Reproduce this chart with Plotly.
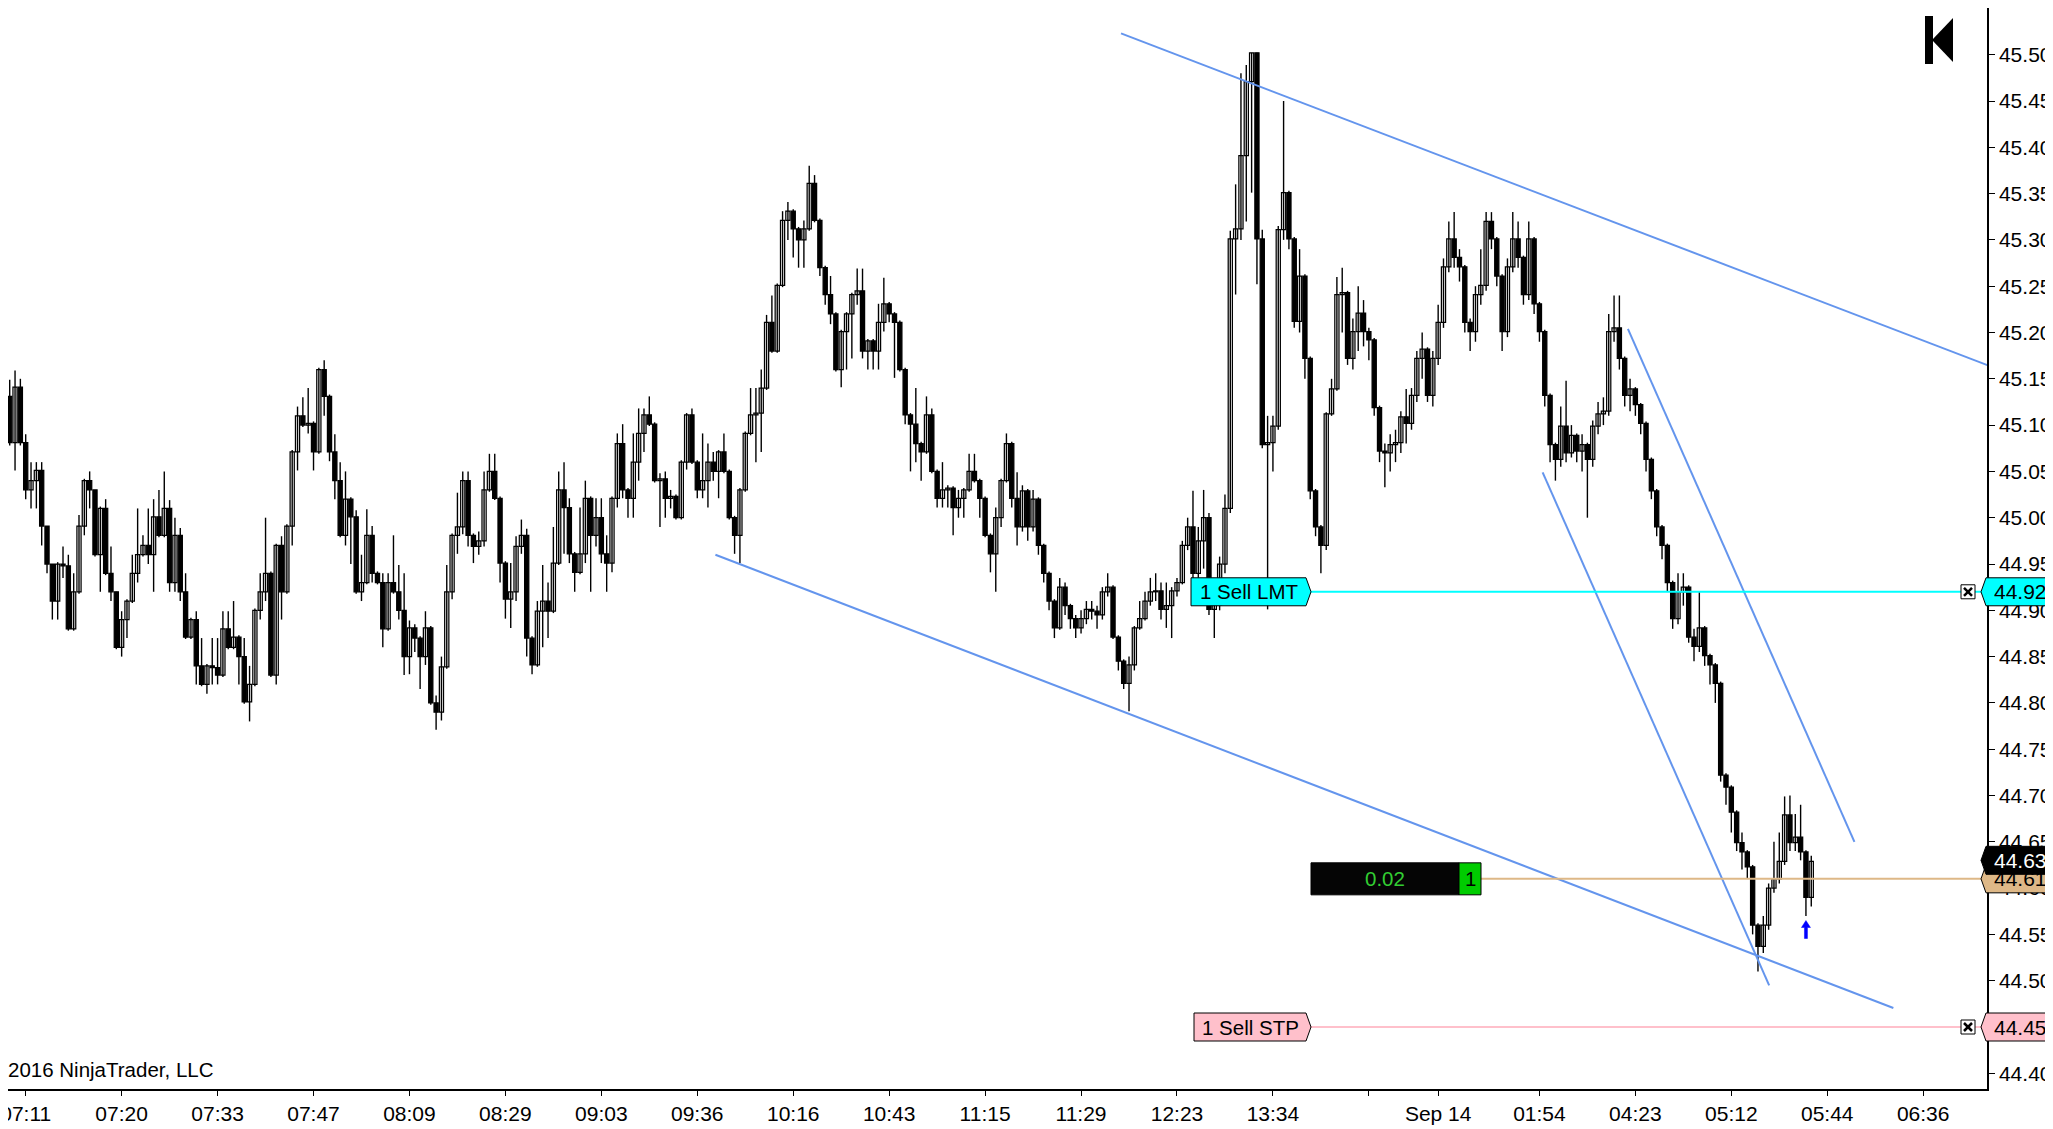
import plotly.graph_objects as go

# ---------------- data ----------------
FIRST_OPEN = 45.131
CLOSE = [
 45.081,45.141,45.081,45.030,45.040,45.051,44.991,44.950,44.910,44.950,
 44.948,44.880,44.920,44.991,45.040,45.030,44.960,45.010,44.940,44.920,
 44.860,44.890,44.910,44.940,44.960,44.970,44.960,45.001,44.981,45.010,
 44.930,44.981,44.920,44.871,44.890,44.840,44.820,44.840,44.838,44.830,
 44.880,44.860,44.871,44.850,44.801,44.820,44.900,44.920,44.940,44.830,
 44.970,44.920,44.991,45.071,45.110,45.100,45.102,45.071,45.160,45.131,
 45.071,45.040,44.981,45.020,45.001,44.920,44.930,44.981,44.940,44.930,
 44.880,44.930,44.920,44.900,44.850,44.881,44.870,44.850,44.881,44.800,
 44.790,44.839,44.920,44.981,44.990,45.040,44.981,44.969,44.975,45.030,
 45.050,45.021,44.951,44.912,44.920,44.969,44.981,44.870,44.841,44.899,
 44.910,44.899,44.951,45.030,45.011,44.961,44.941,44.961,45.021,44.981,
 45.000,44.961,44.951,45.021,45.080,45.030,45.021,45.060,45.091,45.111,
 45.101,45.040,45.042,45.021,45.023,45.000,45.060,45.111,45.060,45.030,
 45.040,45.060,45.050,45.071,45.050,45.000,44.981,45.030,45.091,45.111,
 45.113,45.140,45.211,45.180,45.251,45.321,45.331,45.312,45.300,45.312,
 45.361,45.321,45.270,45.241,45.220,45.160,45.201,45.220,45.241,45.245,
 45.180,45.191,45.180,45.211,45.231,45.220,45.211,45.160,45.111,45.101,
 45.080,45.071,45.111,45.050,45.021,45.030,45.032,45.011,45.021,45.030,
 45.050,45.040,45.021,44.981,44.961,45.000,45.040,45.080,45.021,44.990,
 45.029,44.990,45.020,44.970,44.940,44.910,44.881,44.925,44.905,44.891,
 44.881,44.891,44.901,44.899,44.895,44.920,44.925,44.871,44.845,44.821,
 44.841,44.881,44.891,44.910,44.920,44.921,44.901,44.905,44.921,44.930,
 44.970,44.990,44.940,44.975,45.000,44.901,44.906,44.950,45.010,45.301,
 45.312,45.391,45.471,45.502,45.301,45.079,45.081,45.099,45.311,45.351,
 45.301,45.212,45.261,45.172,45.029,44.990,44.970,45.112,45.139,45.241,
 45.243,45.172,45.201,45.221,45.201,45.192,45.119,45.072,45.070,45.079,
 45.081,45.109,45.102,45.132,45.172,45.182,45.132,45.172,45.211,45.271,
 45.301,45.281,45.271,45.211,45.201,45.241,45.251,45.320,45.301,45.261,
 45.201,45.271,45.301,45.281,45.241,45.301,45.231,45.201,45.132,45.079,
 45.063,45.099,45.070,45.089,45.072,45.079,45.063,45.099,45.112,45.115,
 45.201,45.205,45.172,45.132,45.139,45.122,45.102,45.063,45.029,44.990,
 44.970,44.930,44.891,44.920,44.925,44.871,44.861,44.881,44.851,44.841,
 44.821,44.722,44.709,44.682,44.649,44.639,44.623,44.560,44.537,44.560,
 44.600,44.610,44.629,44.679,44.649,44.655,44.639,44.590,44.629,
]
HIGH = [
 45.149,45.159,45.150,45.090,45.060,45.060,45.060,44.991,44.950,44.952,
 44.969,44.960,44.940,45.003,45.042,45.050,45.030,45.012,45.020,44.969,
 44.920,44.899,44.912,44.960,45.010,44.981,45.010,45.020,45.030,45.050,
 45.019,45.000,44.989,44.940,44.892,44.899,44.870,44.842,44.870,44.870,
 44.899,44.899,44.910,44.873,44.870,44.840,44.902,44.940,45.000,44.942,
 44.972,44.980,44.993,45.073,45.120,45.130,45.140,45.104,45.162,45.170,
 45.133,45.090,45.060,45.050,45.022,45.008,44.960,45.009,44.991,44.942,
 44.940,44.940,44.981,44.949,44.940,44.889,44.885,44.872,44.899,44.883,
 44.808,44.850,44.949,44.983,45.027,45.050,45.050,44.983,44.985,45.050,
 45.069,45.069,45.023,44.953,44.951,44.980,44.998,44.988,44.872,44.910,
 44.949,44.930,44.990,45.050,45.060,45.021,44.963,45.011,45.040,45.023,
 45.021,45.021,44.981,45.023,45.091,45.101,45.032,45.091,45.118,45.118,
 45.131,45.103,45.048,45.050,45.030,45.025,45.062,45.113,45.118,45.062,
 45.091,45.080,45.071,45.073,45.091,45.052,45.002,45.032,45.093,45.140,
 45.140,45.160,45.219,45.240,45.253,45.331,45.341,45.333,45.314,45.321,
 45.380,45.370,45.323,45.272,45.261,45.222,45.203,45.222,45.243,45.269,
 45.269,45.193,45.193,45.231,45.259,45.233,45.222,45.213,45.162,45.113,
 45.140,45.082,45.131,45.118,45.052,45.060,45.035,45.034,45.030,45.032,
 45.069,45.069,45.042,45.023,44.983,45.011,45.042,45.091,45.082,45.049,
 45.035,45.031,45.030,45.022,44.972,44.942,44.912,44.935,44.930,44.907,
 44.895,44.900,44.910,44.910,44.905,44.925,44.940,44.927,44.873,44.847,
 44.850,44.883,44.910,44.920,44.935,44.940,44.930,44.930,44.925,44.935,
 44.975,45.000,45.029,44.990,45.030,45.005,44.912,44.958,45.025,45.310,
 45.360,45.480,45.489,45.502,45.502,45.311,45.110,45.110,45.315,45.450,
 45.353,45.303,45.290,45.263,45.174,45.031,44.992,45.114,45.150,45.260,
 45.270,45.245,45.215,45.250,45.235,45.205,45.194,45.121,45.080,45.090,
 45.095,45.115,45.139,45.140,45.180,45.200,45.184,45.180,45.230,45.280,
 45.320,45.330,45.290,45.273,45.215,45.250,45.290,45.330,45.330,45.303,
 45.263,45.280,45.330,45.320,45.283,45.320,45.303,45.233,45.203,45.134,
 45.081,45.120,45.148,45.100,45.091,45.090,45.081,45.105,45.125,45.130,
 45.220,45.240,45.240,45.174,45.150,45.141,45.124,45.104,45.065,45.031,
 44.992,44.972,44.932,44.940,44.940,44.927,44.880,44.920,44.883,44.853,
 44.843,44.823,44.724,44.711,44.684,44.660,44.641,44.625,44.562,44.570,
 44.605,44.650,44.660,44.699,44.700,44.680,44.690,44.641,44.635,
]
LOW = [
 45.078,45.051,45.078,45.020,45.010,45.010,44.970,44.940,44.890,44.890,
 44.935,44.878,44.878,44.918,44.981,45.010,44.958,44.920,44.938,44.910,
 44.858,44.850,44.870,44.908,44.930,44.958,44.950,44.920,44.979,44.979,
 44.920,44.920,44.910,44.869,44.869,44.820,44.818,44.810,44.820,44.820,
 44.828,44.858,44.858,44.820,44.799,44.780,44.818,44.890,44.910,44.828,
 44.820,44.890,44.918,44.970,45.051,45.098,45.091,45.051,45.069,45.110,
 45.061,45.020,44.979,44.970,44.950,44.918,44.910,44.928,44.930,44.928,
 44.860,44.878,44.918,44.890,44.830,44.831,44.855,44.815,44.841,44.798,
 44.771,44.781,44.837,44.912,44.961,44.982,44.969,44.951,44.960,44.969,
 45.028,45.019,44.930,44.891,44.881,44.910,44.961,44.850,44.831,44.839,
 44.860,44.870,44.897,44.949,44.961,44.951,44.920,44.939,44.951,44.920,
 44.969,44.951,44.920,44.941,45.011,45.021,45.000,45.000,45.040,45.071,
 45.099,45.038,44.990,45.000,45.010,44.998,44.998,45.052,45.058,45.021,
 45.021,45.011,45.040,45.021,45.048,44.998,44.961,44.951,45.028,45.089,
 45.060,45.071,45.138,45.178,45.178,45.249,45.300,45.281,45.270,45.270,
 45.310,45.319,45.261,45.230,45.209,45.158,45.141,45.160,45.172,45.230,
 45.172,45.160,45.160,45.160,45.201,45.211,45.151,45.158,45.101,45.050,
 45.060,45.040,45.069,45.048,45.011,45.011,45.011,44.981,45.000,45.000,
 45.028,45.038,45.000,44.979,44.941,44.920,44.990,45.038,45.011,44.970,
 44.985,44.975,44.985,44.960,44.930,44.900,44.870,44.879,44.895,44.880,
 44.870,44.875,44.885,44.890,44.880,44.890,44.915,44.869,44.835,44.815,
 44.791,44.835,44.879,44.889,44.905,44.910,44.890,44.881,44.870,44.915,
 44.928,44.965,44.935,44.935,44.945,44.895,44.870,44.900,44.940,45.005,
 45.241,45.300,45.320,45.351,45.252,45.075,44.901,45.050,45.095,45.300,
 45.290,45.205,45.200,45.150,45.020,44.980,44.940,44.965,45.110,45.137,
 45.200,45.165,45.160,45.180,45.185,45.170,45.110,45.060,45.033,45.050,
 45.060,45.070,45.080,45.095,45.125,45.150,45.125,45.120,45.165,45.205,
 45.265,45.270,45.255,45.200,45.180,45.190,45.230,45.245,45.290,45.250,
 45.180,45.195,45.265,45.270,45.230,45.235,45.220,45.190,45.120,45.060,
 45.040,45.055,45.060,45.065,45.060,45.050,45.000,45.055,45.090,45.100,
 45.110,45.190,45.160,45.120,45.115,45.110,45.090,45.050,45.020,44.980,
 44.955,44.920,44.880,44.885,44.905,44.865,44.845,44.855,44.840,44.820,
 44.800,44.715,44.690,44.660,44.640,44.620,44.610,44.550,44.510,44.530,
 44.555,44.595,44.605,44.625,44.640,44.640,44.630,44.570,44.580,
]

X_TICK_BARS = [3, 21, 39, 57, 75, 93, 111, 129, 147, 165, 183, 201, 219, 237, 255,
               268, 287, 305, 323, 341, 359]
X_TICK_LABELS = ["07:11", "07:20", "07:33", "07:47", "08:09", "08:29", "09:03", "09:36",
                 "10:16", "10:43", "11:15", "11:29", "12:23", "13:34", "",
                 "Sep 14", "01:54", "04:23", "05:12", "05:44", "06:36"]
Y_TICKS = [44.40, 44.45, 44.50, 44.55, 44.60, 44.65, 44.70, 44.75, 44.80, 44.85,
           44.90, 44.95, 45.00, 45.05, 45.10, 45.15, 45.20, 45.25, 45.30, 45.35,
           45.40, 45.45, 45.50]

# drawn trend lines: (bar0, price0, bar1, price1)
TREND_LINES = [
    (208.5, 45.523, 380.0, 45.145),
    (132.4, 44.960, 353.4, 44.4705),
    (287.6, 45.049, 330.1, 44.495),
    (303.6, 45.204, 346.1, 44.650),
]

LMT_PRICE = 44.92
STP_PRICE = 44.45
POS_PRICE = 44.61
LAST_PRICE = 44.63
PNL_TEXT = "0.02"
QTY_TEXT = "1"
ARROW_BAR = 337
ARROW_TIP = 44.565

# ---------------- geometry ----------------
W, H = 2053, 1129
PL, PR, PT, PB = 0, 1979, 0, 1081          # plot area in pixels
X0, X1 = -0.32, 370.97
Y0, Y1 = 44.38305, 45.55043
FONT = "Liberation Sans, Arial, sans-serif"

n = len(CLOSE)
OPEN = [FIRST_OPEN] + CLOSE[:-1]
idx = list(range(n))


def xp(px):      # pixel -> paper x
    return (px - PL) / (PR - PL)


def yp_pix(py):  # pixel -> paper y
    return 1 - (py - PT) / (PB - PT)


def yp(price):   # price -> paper y
    return (price - Y0) / (Y1 - Y0)


DYP = 1.0 / (PB - PT)          # one pixel in paper-y units
PPX = (PB - PT) / (Y1 - Y0)    # pixels per price unit
BPX = (PR - PL) / (X1 - X0)    # pixels per bar

fig = go.Figure()

# wicks
wx, wy = [], []
for i in idx:
    wx += [i, i, None]
    wy += [LOW[i], HIGH[i], None]
fig.add_trace(go.Scatter(x=wx, y=wy, mode="lines",
                         line=dict(color="black", width=1.4),
                         hoverinfo="skip"))

# bodies
base, hgt, col = [], [], []
for i in idx:
    lo = min(OPEN[i], CLOSE[i])
    hi = max(OPEN[i], CLOSE[i])
    base.append(lo)
    hgt.append(max(hi - lo, 0.0006))
    col.append("white" if CLOSE[i] >= OPEN[i] else "black")
fig.add_trace(go.Bar(x=idx, y=hgt, base=base, width=0.78,
                     marker=dict(color=col, line=dict(color="black", width=1.25)),
                     hoverinfo="skip"))

shapes = []
annos = []

# trend lines
for (b0, p0, b1, p1) in TREND_LINES:
    shapes.append(dict(type="line", xref="x", yref="y", x0=b0, y0=p0, x1=b1, y1=p1,
                       line=dict(color="#6495ED", width=2)))

# order / position lines
shapes.append(dict(type="line", xref="paper", yref="paper", x0=xp(1303), x1=xp(1979),
                   y0=yp(LMT_PRICE), y1=yp(LMT_PRICE), line=dict(color="#00FFFF", width=2)))
shapes.append(dict(type="line", xref="paper", yref="paper", x0=xp(1302), x1=xp(1979),
                   y0=yp(STP_PRICE), y1=yp(STP_PRICE), line=dict(color="#FFC0CB", width=2)))
shapes.append(dict(type="line", xref="paper", yref="paper", x0=xp(1473), x1=xp(1979),
                   y0=yp(POS_PRICE), y1=yp(POS_PRICE), line=dict(color="#DEB887", width=2)))


def tag_left(x_left, x_right, price, fill, text):
    yc = yp(price)
    h = 14 * DYP
    path = (f"M {xp(x_left)},{yc + h} L {xp(x_right)},{yc + h} L {xp(x_right + 5)},{yc} "
            f"L {xp(x_right)},{yc - h} L {xp(x_left)},{yc - h} Z")
    shapes.append(dict(type="path", xref="paper", yref="paper", path=path,
                       fillcolor=fill, line=dict(color="black", width=1)))
    annos.append(dict(x=xp((x_left + x_right) / 2), y=yc, xref="paper", yref="paper",
                      text=text, showarrow=False, xanchor="center", yanchor="middle",
                      font=dict(family=FONT, size=20.5, color="black")))


tag_left(1183, 1298, LMT_PRICE, "#00FFFF", "1 Sell LMT")
tag_left(1186, 1298, STP_PRICE, "#FFC0CB", "1 Sell STP")

# position box
yc = yp(POS_PRICE)
shapes.append(dict(type="rect", xref="paper", yref="paper", x0=xp(1303), x1=xp(1451),
                   y0=yc - 16 * DYP, y1=yc + 16 * DYP, fillcolor="#050505",
                   line=dict(color="black", width=1)))
shapes.append(dict(type="rect", xref="paper", yref="paper", x0=xp(1451), x1=xp(1473),
                   y0=yc - 16 * DYP, y1=yc + 16 * DYP, fillcolor="#00CC00",
                   line=dict(color="black", width=1)))
annos.append(dict(x=xp(1377), y=yc, xref="paper", yref="paper", text=PNL_TEXT,
                  showarrow=False, xanchor="center", yanchor="middle",
                  font=dict(family=FONT, size=20.5, color="#32CD32")))
annos.append(dict(x=xp(1462), y=yc, xref="paper", yref="paper", text=QTY_TEXT,
                  showarrow=False, xanchor="center", yanchor="middle",
                  font=dict(family=FONT, size=20.5, color="black")))

# close boxes
for price in (LMT_PRICE, STP_PRICE):
    yc = yp(price)
    shapes.append(dict(type="rect", xref="paper", yref="paper", x0=xp(1953), x1=xp(1967),
                       y0=yc - 7 * DYP, y1=yc + 7 * DYP, fillcolor="white",
                       line=dict(color="black", width=1)))
    shapes.append(dict(type="line", xref="paper", yref="paper", x0=xp(1956), x1=xp(1964),
                       y0=yc - 4 * DYP, y1=yc + 4 * DYP, line=dict(color="black", width=2.5)))
    shapes.append(dict(type="line", xref="paper", yref="paper", x0=xp(1956), x1=xp(1964),
                       y0=yc + 4 * DYP, y1=yc - 4 * DYP, line=dict(color="black", width=2.5)))


def tag_right(price, fill, txtcol, text):
    yc = yp(price)
    h = 14 * DYP
    path = (f"M {xp(1973)},{yc} L {xp(1978)},{yc + h} L {xp(2050)},{yc + h} "
            f"L {xp(2050)},{yc - h} L {xp(1978)},{yc - h} Z")
    shapes.append(dict(type="path", xref="paper", yref="paper", path=path,
                       fillcolor=fill, line=dict(color="black", width=1)))
    annos.append(dict(x=xp(1984), y=yc, xref="paper", yref="paper", text=text,
                      showarrow=False, xanchor="left", yanchor="middle",
                      font=dict(family=FONT, size=21, color=txtcol)))


tag_right(LMT_PRICE, "#00FFFF", "black", f"{LMT_PRICE:.2f}")
tag_right(POS_PRICE, "#DEB887", "black", f"{POS_PRICE:.2f}")
tag_right(LAST_PRICE, "black", "white", f"{LAST_PRICE:.2f}")
tag_right(STP_PRICE, "#FFC0CB", "black", f"{STP_PRICE:.2f}")

# blue entry arrow under the bar
hw = 4.5 / BPX
sw = 1.5 / BPX
hh = 7 / PPX
tl = 18 / PPX
ax_ = ARROW_BAR
apath = (f"M {ax_},{ARROW_TIP} L {ax_ + hw},{ARROW_TIP - hh} L {ax_ + sw},{ARROW_TIP - hh} "
         f"L {ax_ + sw},{ARROW_TIP - tl} L {ax_ - sw},{ARROW_TIP - tl} L {ax_ - sw},{ARROW_TIP - hh} "
         f"L {ax_ - hw},{ARROW_TIP - hh} Z")
shapes.append(dict(type="path", xref="x", yref="y", path=apath, fillcolor="#0000FF",
                   line=dict(color="#0000FF", width=0.5)))

# logo
shapes.append(dict(type="rect", xref="paper", yref="paper", x0=xp(1917), x1=xp(1925),
                   y0=yp_pix(56), y1=yp_pix(8), fillcolor="black", line=dict(width=0)))
shapes.append(dict(type="path", xref="paper", yref="paper",
                   path=f"M {xp(1924)},{yp_pix(32)} L {xp(1945)},{yp_pix(10)} L {xp(1945)},{yp_pix(54)} Z",
                   fillcolor="black", line=dict(width=0)))

# right border and scroll bar
shapes.append(dict(type="rect", xref="paper", yref="paper", x0=xp(2050), x1=xp(2053),
                   y0=yp_pix(1123), y1=yp_pix(0), fillcolor="black", line=dict(width=0)))
shapes.append(dict(type="rect", xref="paper", yref="paper", x0=xp(0), x1=xp(2053),
                   y0=yp_pix(1129), y1=yp_pix(1123), fillcolor="#E3E3E3", line=dict(width=0)))
shapes.append(dict(type="rect", xref="paper", yref="paper", x0=xp(1737), x1=xp(2026),
                   y0=yp_pix(1130), y1=yp_pix(1124), fillcolor="#F3F3F3",
                   line=dict(color="#ADADAD", width=1)))

annos.append(dict(x=xp(-2), y=yp_pix(1061), xref="paper", yref="paper",
                  text="2016 NinjaTrader, LLC", showarrow=False, xanchor="left",
                  yanchor="middle", font=dict(family=FONT, size=20.5, color="black")))

fig.update_layout(
    template="none",
    width=W, height=H,
    margin=dict(l=PL, r=W - PR, t=PT, b=H - PB, pad=0),
    paper_bgcolor="white", plot_bgcolor="white",
    showlegend=False, barmode="overlay",
    shapes=shapes, annotations=annos,
    xaxis=dict(range=[X0, X1], tickmode="array", tickvals=X_TICK_BARS,
               ticktext=X_TICK_LABELS, ticks="outside", ticklen=5, tickcolor="black",
               tickwidth=1, showline=True, linecolor="black", linewidth=1.5,
               showgrid=False, zeroline=False, automargin=False,
               tickfont=dict(family=FONT, size=21, color="black"),
               ticklabelstandoff=0, ticklabeloverflow="allow", fixedrange=True),
    yaxis=dict(range=[Y0, Y1], side="right", tickmode="array", tickvals=Y_TICKS,
               ticktext=[f"{v:.2f}" for v in Y_TICKS], ticks="outside", ticklen=6,
               tickcolor="black", tickwidth=1, showline=True, linecolor="black",
               linewidth=1.5, showgrid=False, zeroline=False, automargin=False,
               tickfont=dict(family=FONT, size=21, color="black"),
               ticklabeloverflow="allow", fixedrange=True),
)

fig.write_html("out.html", config={"displayModeBar": False})
